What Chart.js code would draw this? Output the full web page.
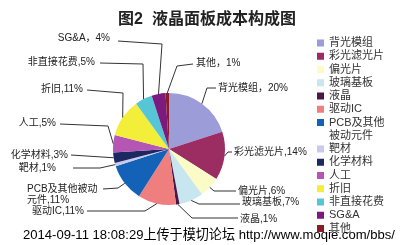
<!DOCTYPE html>
<html><head><meta charset="utf-8">
<script src="https://cdn.jsdelivr.net/npm/chart.js@4"></script>
<style>html,body{margin:0;padding:0;background:#fff;overflow:hidden}</style>
</head><body>
<canvas id="c" width="400" height="245"></canvas>
<script>
// ---- data ----
const categories = ["背光模组","彩光滤光片","偏光片","玻璃基板","液晶","驱动IC","PCB及其他被动元件","靶材","化学材料","人工","折旧","非直接花费","SG&A","其他"];
const shares = [20,14,6,7,1,11,11,1,3,5,11,5,4,1];
const titleText = "图2  液晶面板成本构成图";
const footerText = "2014-09-11 18:08:29上传于模切论坛 http://www.moqie.com/bbs/";

// ---- styles / layout ----
const colors = ["#9c9cd8","#9b2d63","#fbfbc8","#c8e6ef","#4a1848","#ef7f7f","#1462b8","#c9c9ee","#1c2860","#b556b5","#f2ee3a","#56c6d6","#7c1a80","#8a1c28"];
const legendWrap = {6: 6};           // category index -> wrap after n chars in legend
const labelLayout = [
  {sep:"，", tx:218, ty:88,  al:"left",  pts:[[207,88],[216,88]]},
  {sep:",",  tx:234, ty:152, al:"left",  pts:[[228,152],[232,152]]},
  {sep:",",  tx:238, ty:191, al:"left",  pts:[[214,191],[236,191]]},
  {sep:",",  tx:242, ty:202, al:"left",  pts:[[199,204],[240,204]]},
  {sep:",",  tx:240, ty:219, al:"left",  pts:[[192,218],[238,218]]},
  {sep:",",  tx:84,  ty:211, al:"right", pts:[[145,211],[87,211]]},
  {sep:",",  tx:27,  ty:189, al:"left",  pts:[[118,188],[103,189]], wrap:8},
  {sep:",",  tx:56,  ty:168, al:"right", pts:[[100,168],[73,168]]},
  {sep:",",  tx:68,  ty:155, al:"right", pts:[[71,155]]},
  {sep:",",  tx:56,  ty:123, al:"right", pts:[[108,126],[60,124]]},
  {sep:",",  tx:83,  ty:89,  al:"right", pts:[[123,93],[87,90]]},
  {sep:",",  tx:95,  ty:62,  al:"right", pts:[[143,64],[100,63]]},
  {sep:"，", tx:110, ty:38,  al:"right", pts:[[162,44],[118,41]]},
  {sep:"，", tx:196, ty:63,  al:"left",  pts:[[177,66],[193,64]]}
];
const FONT = '"Liberation Sans", "Noto Sans CJK SC", sans-serif';

const decor = {
  id: 'decor',
  afterDraw(chart) {
    const ctx = chart.ctx;
    const meta = chart.getDatasetMeta(0);
    ctx.save();
    // title
    ctx.fillStyle = '#222';
    ctx.font = 'bold 16px ' + FONT;
    ctx.textAlign = 'center';
    ctx.textBaseline = 'middle';
    ctx.fillText(titleText, 207, 20);

    // slice labels with leader lines
    ctx.font = '10px ' + FONT;
    meta.data.forEach((arc, i) => {
      const p = arc.getProps(['x','y','startAngle','endAngle','outerRadius'], true);
      const a = (p.startAngle + p.endAngle) / 2;
      const ex = p.x + Math.cos(a) * p.outerRadius;
      const ey = p.y + Math.sin(a) * p.outerRadius;
      const L = labelLayout[i];
      ctx.strokeStyle = '#333';
      ctx.lineWidth = 1;
      ctx.beginPath();
      ctx.moveTo(ex, ey);
      L.pts.forEach(q => ctx.lineTo(q[0], q[1]));
      ctx.stroke();
      const full = categories[i] + L.sep + shares[i] + '%';
      const lines = L.wrap ? [full.slice(0, L.wrap), full.slice(L.wrap)] : [full];
      ctx.fillStyle = '#222';
      ctx.textAlign = L.al;
      ctx.textBaseline = 'middle';
      lines.forEach((t, k) => ctx.fillText(t, L.tx, L.ty + k * 11));
    });

    // legend
    ctx.font = '11px ' + FONT;
    ctx.textAlign = 'left';
    let y = 43;
    categories.forEach((c, i) => {
      const lines = legendWrap[i] ? [c.slice(0, legendWrap[i]), c.slice(legendWrap[i])] : [c];
      ctx.fillStyle = colors[i];
      ctx.fillRect(317, y - 3.5, 7, 7);
      ctx.fillStyle = '#333';
      lines.forEach(t => { ctx.fillText(t, 329, y); y += 13.25; });
    });

    // footer
    ctx.fillStyle = '#000';
    ctx.font = '13px ' + FONT;
    const w = ctx.measureText(footerText).width;
    const fs = 13 * 372 / w;
    ctx.font = fs.toFixed(2) + 'px ' + FONT;
    ctx.fillText(footerText, 23, 235);
    ctx.restore();
  }
};

new Chart(document.getElementById('c'), {
  type: 'pie',
  data: {
    labels: categories,
    datasets: [{ data: shares, backgroundColor: colors, borderWidth: 0 }]
  },
  options: {
    responsive: false,
    animation: false,
    layout: { padding: { left: 113, right: 175, top: 93, bottom: 40 } },
    plugins: { legend: { display: false }, tooltip: { enabled: false }, title: { display: false } }
  },
  plugins: [decor]
});
</script>
</body></html>
